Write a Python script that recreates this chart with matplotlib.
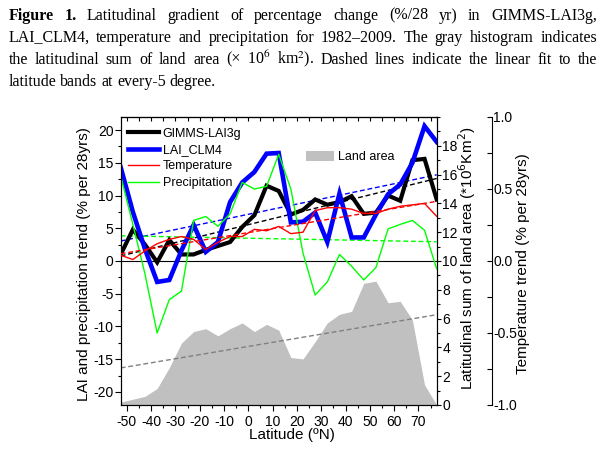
import numpy as np
import matplotlib
matplotlib.use('Agg')
import matplotlib.pyplot as plt
from matplotlib.ticker import MultipleLocator, FormatStrFormatter, FixedLocator
from matplotlib.patches import Patch
from matplotlib.lines import Line2D

# ---- data (5-degree latitude band centres) ----
lat = [-52.5, -47.5, -42.5, -37.5, -32.5, -27.5, -22.5, -17.5, -12.5, -7.5, -2.5,
       2.5, 7.5, 12.5, 17.5, 22.5, 27.5, 32.5, 37.5, 42.5, 47.5, 52.5, 57.5, 62.5,
       67.5, 72.5, 77.5]
gimms = [1.0, 4.8, 2.5, -0.2, 3.2, 1.0, 1.0, 1.7, 2.3, 2.9, 5.2, 7.0, 11.5, 10.7,
         7.1, 7.8, 9.4, 8.6, 9.0, 9.9, 7.2, 7.4, 10.0, 9.2, 15.4, 15.6, 9.4]
clm4 = [14.3, 7.5, 1.8, -3.2, -2.9, 1.6, 5.5, 1.4, 2.9, 9.0, 12.0, 13.6, 16.4, 16.5,
        5.9, 6.0, 7.4, 2.9, 10.3, 3.6, 3.6, 7.1, 10.2, 11.7, 15.0, 20.6, 18.2]
temperature = [0.04, 0.01, 0.07, 0.12, 0.15, 0.17, 0.15, 0.08, 0.13, 0.17, 0.17,
               0.22, 0.21, 0.24, 0.19, 0.20, 0.35, 0.37, 0.37, 0.36, 0.33, 0.33,
               0.36, 0.38, 0.39, 0.40, 0.31]
precip = [13.0, 5.6, -2.0, -11.0, -5.9, -4.6, 6.2, 6.8, 5.3, 7.2, 12.0, 11.0, 11.4,
          16.3, 11.0, 1.2, -5.2, -3.2, 1.0, -0.8, -2.9, -1.0, 4.9, 5.6, 6.2, 4.7, -1.2]
land_area = [0.2, 0.4, 0.6, 1.15, 2.6, 4.3, 5.1, 5.3, 4.8, 5.3, 5.7, 5.1, 5.6, 5.2,
             3.3, 3.2, 4.4, 5.7, 6.3, 6.5, 8.45, 8.6, 7.1, 7.2, 5.9, 1.4, 0.0]

x_ticks = [-50, -40, -30, -20, -10, 0, 10, 20, 30, 40, 50, 60, 70]
land_ticks = [0, 2, 4, 6, 8, 10, 12, 14, 16, 18]

plt.rcParams['font.family'] = ['Liberation Sans', 'DejaVu Sans']
plt.rcParams['axes.unicode_minus'] = False

W, H = 603, 450
fig = plt.figure(figsize=(W / 100, H / 100), dpi=100)

L, R, T, B = 120.7, 436.7, 117.0, 405.0
ax = fig.add_axes([L / W, 1 - B / H, (R - L) / W, (B - T) / H])
ax_land = ax.twinx()
ax_temp = ax.twinx()
ax_land.set_zorder(0)
ax.set_zorder(1)
ax_temp.set_zorder(2)
ax.patch.set_visible(False)
ax_temp.patch.set_visible(False)

latv = np.array(lat)
dash = (3.5, 2)
GREEN = '#00ff00'
BLUE = '#0000ff'
RED = '#ff0000'

# land area histogram
ax_land.fill_between(lat, land_area, 0, color='#c0c0c0', lw=0)
pl = np.polyfit(latv, land_area, 1)
ax_land.plot(lat, np.polyval(pl, latv), color='#808080', lw=1, dashes=dash)

# zero line
ax.axhline(0, color='black', lw=0.8)

# linear fits
for ser, col in [(gimms, 'black'), (clm4, BLUE), (precip, GREEN)]:
    p = np.polyfit(latv, ser, 1)
    ax.plot(lat, np.polyval(p, latv), color=col, lw=1, dashes=dash)
pt = np.polyfit(latv, temperature, 1)
ax_temp.plot(lat, np.polyval(pt, latv), color=RED, lw=1, dashes=dash)

# series
ax.plot(lat, gimms, color='black', lw=3.0, solid_joinstyle='miter')
ax.plot(lat, clm4, color=BLUE, lw=3.3, solid_joinstyle='miter')
ax.plot(lat, precip, color=GREEN, lw=1.0)
ax_temp.plot(lat, temperature, color=RED, lw=1.0)

# axes limits / ticks
ax.set_xlim(-52.5, 77.5)
ax.set_ylim(-22, 22)
ax_land.set_ylim(0, 20)
ax_temp.set_ylim(-1, 1)

ax.xaxis.set_major_locator(FixedLocator(x_ticks))
ax.xaxis.set_minor_locator(MultipleLocator(5))
ax.yaxis.set_major_locator(MultipleLocator(5))
ax.yaxis.set_minor_locator(MultipleLocator(2.5))
ax.tick_params(axis='x', which='major', direction='out', length=4, width=0.8,
               labelsize=10, pad=3)
ax.tick_params(axis='x', which='minor', direction='out', length=2.5, width=0.8)
ax.tick_params(axis='y', which='major', direction='out', length=4, width=0.8,
               labelsize=10, pad=1.2)
ax.tick_params(axis='y', which='minor', direction='out', length=2.4, width=0.8)

sec = ax.secondary_xaxis('top')
sec.xaxis.set_major_locator(FixedLocator(x_ticks))
sec.xaxis.set_minor_locator(MultipleLocator(5))
sec.tick_params(axis='x', which='both', direction='in', length=3, width=0.8,
                labeltop=False)

ax_land.yaxis.set_major_locator(FixedLocator(land_ticks))
ax_land.yaxis.set_minor_locator(MultipleLocator(1))
ax_land.tick_params(axis='y', which='major', direction='out', length=3, width=0.8,
                    labelsize=10, pad=1)
ax_land.tick_params(axis='y', which='minor', direction='out', length=2.2, width=0.8)

ax_temp.spines['right'].set_position(('axes', (491.7 - L) / (R - L)))
for s in ['top', 'bottom', 'left']:
    ax_temp.spines[s].set_visible(False)
ax_temp.yaxis.set_major_locator(MultipleLocator(0.5))
ax_temp.yaxis.set_minor_locator(MultipleLocator(0.25))
ax_temp.yaxis.set_major_formatter(FormatStrFormatter('%.1f'))
ax_temp.tick_params(axis='y', which='both', direction='in', length=3.6, width=0.8,
                    labelsize=10, pad=1)

# labels
LFS = 11
ax.set_xlabel('Latitude (ºN)', fontsize=LFS)
ax.xaxis.set_label_coords((291.8 - L) / (R - L), -0.104)
ax.xaxis.label.set_va('center')
ax.set_ylabel('LAI and precipitation trend (% per 28yrs)', fontsize=LFS, va='center')
ax.yaxis.set_label_coords((84 - L) / (R - L), 0.49)
ax_land.set_ylabel('Latitudinal sum of land area (*10$^6$Km$^2$)', fontsize=LFS,
                   va='center', rotation=90)
ax_land.yaxis.set_label_coords((467.5 - L) / (R - L), 0.51)
ax_temp.set_ylabel('Temperature trend (% per 28yrs)', fontsize=LFS, va='center',
                   rotation=90)
ax_temp.yaxis.set_label_coords((523 - L) / (R - L), 0.49)

# legends
handles = [Line2D([], [], color='black', lw=3.0),
           Line2D([], [], color=BLUE, lw=3.3),
           Line2D([], [], color=RED, lw=1.0),
           Line2D([], [], color=GREEN, lw=1.0)]
names = ['GIMMS-LAI3g', 'LAI_CLM4', 'Temperature', 'Precipitation']
ax.legend(handles, names, loc='upper left',
          bbox_to_anchor=((128.3 - L) / (R - L), (B - 127.5) / (B - T)),
          frameon=False, fontsize=9, handlelength=2.48, handletextpad=0.27,
          labelspacing=0.36, borderpad=0, borderaxespad=0)
ax_land.legend([Patch(facecolor='#c0c0c0', edgecolor='none')], ['Land area'],
               loc='upper left',
               bbox_to_anchor=((306 - L) / (R - L), (B - 151) / (B - T)),
               frameon=False, fontsize=9, handlelength=2.25, handleheight=0.9,
               handletextpad=0.3, borderpad=0, borderaxespad=0)

# ---- justified caption ----
serif = ['Liberation Serif', 'DejaVu Serif']
cap_lines = [
    [('Figure', 'bold'), ('1.', 'bold'), ('Latitudinal', 'normal'), ('gradient', 'normal'),
     ('of', 'normal'), ('percentage', 'normal'), ('change', 'normal'), ('(%/28', 'normal'),
     ('yr)', 'normal'), ('in', 'normal'), ('GIMMS-LAI3g,', 'normal')],
    [('LAI_CLM4,', 'normal'), ('temperature', 'normal'), ('and', 'normal'),
     ('precipitation', 'normal'), ('for', 'normal'), ('1982–2009.', 'normal'),
     ('The', 'normal'), ('gray', 'normal'), ('histogram', 'normal'), ('indicates', 'normal')],
    [('the', 'normal'), ('latitudinal', 'normal'), ('sum', 'normal'), ('of', 'normal'),
     ('land', 'normal'), ('area', 'normal'), ('(×', 'normal'), ('10$^6$', 'normal'),
     ('km$^2$).', 'normal'), ('Dashed', 'normal'), ('lines', 'normal'),
     ('indicate', 'normal'), ('the', 'normal'), ('linear', 'normal'), ('fit', 'normal'),
     ('to', 'normal'), ('the', 'normal')],
    [('latitude', 'normal'), ('bands', 'normal'), ('at', 'normal'),
     ('every-5', 'normal'), ('degree.', 'normal')],
]
baselines = [19.5, 41.8, 63.6, 85.5]
x0, x1 = 8.5, 597.0
fs_cap = 11.5
renderer = fig.canvas.get_renderer()

def mk(s, w, xp, yp):
    return fig.text(xp / W, 1 - yp / H, s, fontsize=fs_cap, family=serif, weight=w,
                    va='baseline', ha='left', math_fontfamily='stix')

probe1 = mk('x x', 'normal', 0, 0)
probe2 = mk('xx', 'normal', 0, 0)
space_w = probe1.get_window_extent(renderer).width - probe2.get_window_extent(renderer).width
probe1.remove()
probe2.remove()

for i, (line, yb) in enumerate(zip(cap_lines, baselines)):
    texts = [mk(s, w, 0, yb) for s, w in line]
    widths = [t.get_window_extent(renderer).width for t in texts]
    if i < len(cap_lines) - 1:
        gap = (x1 - x0 - sum(widths)) / (len(texts) - 1)
    else:
        gap = space_w
    xp = x0
    for t, wd in zip(texts, widths):
        t.set_x(xp / W)
        xp += wd + gap

fig.savefig('out.png', dpi=100)
